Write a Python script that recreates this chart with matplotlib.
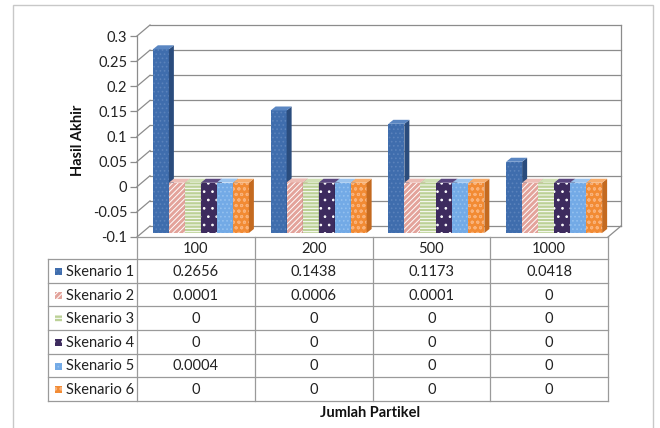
import matplotlib
matplotlib.use("Agg")
import matplotlib.pyplot as plt
from matplotlib.patches import Polygon, Rectangle

# ---- data -------------------------------------------------------------
categories = ["100", "200", "500", "1000"]
series_names = ["Skenario 1", "Skenario 2", "Skenario 3",
                "Skenario 4", "Skenario 5", "Skenario 6"]
skenario_1 = [0.2656, 0.1438, 0.1173, 0.0418]
skenario_2 = [0.0001, 0.0006, 0.0001, 0.0]
skenario_3 = [0.0, 0.0, 0.0, 0.0]
skenario_4 = [0.0, 0.0, 0.0, 0.0]
skenario_5 = [0.0004, 0.0, 0.0, 0.0]
skenario_6 = [0.0, 0.0, 0.0, 0.0]
series_values = [skenario_1, skenario_2, skenario_3,
                 skenario_4, skenario_5, skenario_6]
y_ticks = [-0.1, -0.05, 0, 0.05, 0.1, 0.15, 0.2, 0.25, 0.3]
y_tick_labels = ["-0.1", "-0.05", "0", "0.05", "0.1", "0.15", "0.2", "0.25", "0.3"]

# ---- styles (front, side, top, hatch colour, hatch) ----------------------
styles = [
    ("#3F6DAD", "#2A4C7D", "#5A86C2", "#5A82BB", "...."),
    ("#E3A39B", "#B9807A", "#EDBDB6", "#FFFFFF", "//////"),
    ("#BCD197", "#93A773", "#D0E0B4", "#FFFFFF", "-----"),
    ("#3D2B5E", "#2A1D42", "#5A4680", "#FFFFFF", ".."),
    ("#73AAE6", "#5585B9", "#9CC4EE", "#93C0EF", "...."),
    ("#F28B34", "#C46A20", "#F7AC6B", "#F9B27A", "ooo"),
]

plt.rcParams["font.family"] = ["Lato", "DejaVu Sans"]
plt.rcParams["hatch.linewidth"] = 0.7
FS = 10.5
TXT = "#222222"

W, H = 660, 428
fig = plt.figure(figsize=(W / 100, H / 100), dpi=100)
fig.patch.set_facecolor("white")

# outer chart frame
fig.add_artist(Rectangle((13 / W, -0.01), (653 - 13) / W, (H - 5) / H + 0.01,
                         transform=fig.transFigure, fill=False,
                         edgecolor="#C8C8C8", linewidth=1.0))

# front plane of the plot area
L, R, T, B = 137, 608, 36, 237
ax = fig.add_axes([L / W, (H - B) / H, (R - L) / W, (B - T) / H])
ax.set_xlim(-0.5, len(categories) - 0.5)
ax.set_ylim(-0.1, 0.3)
ax.patch.set_alpha(0)
for s in ("top", "right", "bottom"):
    ax.spines[s].set_visible(False)
ax.spines["left"].set_color("#8C8C8C")
ax.spines["left"].set_linewidth(0.9)
ax.set_xticks([])
ax.set_yticks(y_ticks)
ax.set_yticklabels(y_tick_labels, fontsize=FS, color=TXT)
ax.tick_params(axis="y", length=5, width=0.9, color="#8C8C8C", pad=2)

# pixel -> data conversions for depth offsets
px_x = (R - L) / (ax.get_xlim()[1] - ax.get_xlim()[0])
px_y = (B - T) / (ax.get_ylim()[1] - ax.get_ylim()[0])
def dxu(p):
    return p / px_x
def dyu(p):
    return p / px_y

x0, x1 = ax.get_xlim()
ybase = ax.get_ylim()[0]
wall_dx, wall_dy = dxu(13), dyu(11)
grid_kw = dict(color="#8C8C8C", linewidth=0.9, clip_on=False, zorder=1)

# back wall gridlines and left-wall connectors
for yv in y_ticks:
    ax.plot([x0 + wall_dx, x1 + wall_dx], [yv + wall_dy, yv + wall_dy], **grid_kw)
    ax.plot([x0, x0 + wall_dx], [yv, yv + wall_dy], **grid_kw)
# right wall edge and floor corner
ax.plot([x1 + wall_dx, x1 + wall_dx], [ybase + wall_dy, 0.3 + wall_dy], **grid_kw)
ax.plot([x1, x1 + wall_dx], [ybase, ybase + wall_dy], **grid_kw)

# 3D columns
bar_w = dxu(16)
shift_x, shift_y = dxu(5), dyu(4)
dep_x, dep_y = dxu(5), dyu(4)
n = len(series_values)
for ci in range(len(categories)):
    for si, vals in enumerate(series_values):
        front, side, top, hcol, hatch = styles[si]
        v = vals[ci]
        xl = ci + (si - n / 2) * bar_w + shift_x
        xr = xl + bar_w
        yb = ybase + shift_y
        yt = v + shift_y
        ax.bar(xl, v - ybase, width=bar_w, bottom=yb, align="edge",
               color=front, edgecolor=hcol, linewidth=0, hatch=hatch,
               clip_on=False, zorder=3)
        ax.add_patch(Polygon([(xr, yb), (xr + dep_x, yb + dep_y),
                              (xr + dep_x, yt + dep_y), (xr, yt)],
                             closed=True, facecolor=side, edgecolor="none",
                             clip_on=False, zorder=3))
        ax.add_patch(Polygon([(xl, yt), (xr, yt), (xr + dep_x, yt + dep_y),
                              (xl + dep_x, yt + dep_y)],
                             closed=True, facecolor=top, edgecolor="none",
                             clip_on=False, zorder=3))

ax.set_ylabel("Hasil Akhir", fontsize=FS, fontweight="bold", color="#111111")
ax.yaxis.set_label_coords(-(L - 85) / (R - L), (B - 140) / (B - T))

# ---- data table ----------------------------------------------------------
TL, TR, TT, TB = 48, 608, 237, 401
tab = fig.add_axes([TL / W, (H - TB) / H, (TR - TL) / W, (TB - TT) / H])
tab.set_xlim(0, TR - TL)
tab.set_ylim(TB - TT, 0)
tab.axis("off")

col_edges = [0, 89, 206.75, 324.5, 442.25, 560]
head_h = 22
row_h = (TB - TT - head_h) / len(series_names)
line_kw = dict(color="#9A9A9A", linewidth=0.9, clip_on=False)

# horizontal rules
tab.plot([col_edges[1], col_edges[-1]], [0, 0], **line_kw)
for r in range(len(series_names) + 1):
    yy = head_h + r * row_h
    tab.plot([col_edges[0], col_edges[-1]], [yy, yy], **line_kw)
# vertical rules
tab.plot([col_edges[0], col_edges[0]], [head_h, TB - TT], **line_kw)
for xe in col_edges[1:]:
    tab.plot([xe, xe], [0, TB - TT], **line_kw)

# header row
for ci, cat in enumerate(categories):
    cx = (col_edges[ci + 1] + col_edges[ci + 2]) / 2
    tab.text(cx, head_h / 2 + 1, cat, ha="center", va="center",
             fontsize=FS, color=TXT)

# series rows
for si, name in enumerate(series_names):
    cy = head_h + (si + 0.5) * row_h + 1
    front, side, top, hcol, hatch = styles[si]
    tab.add_patch(Rectangle((7, cy - 4), 7, 7, facecolor=front,
                            edgecolor=hcol, linewidth=0, hatch=hatch,
                            clip_on=False))
    tab.text(18, cy, name, ha="left", va="center", fontsize=FS, color=TXT)
    for ci, v in enumerate(series_values[si]):
        cx = (col_edges[ci + 1] + col_edges[ci + 2]) / 2
        tab.text(cx, cy, f"{v:g}", ha="center", va="center",
                 fontsize=FS, color=TXT)

fig.text(370 / W, (H - 413) / H, "Jumlah Partikel", ha="center",
         va="center", fontsize=FS, fontweight="bold", color="#111111")

fig.savefig("out.png", dpi=100, facecolor="white")
